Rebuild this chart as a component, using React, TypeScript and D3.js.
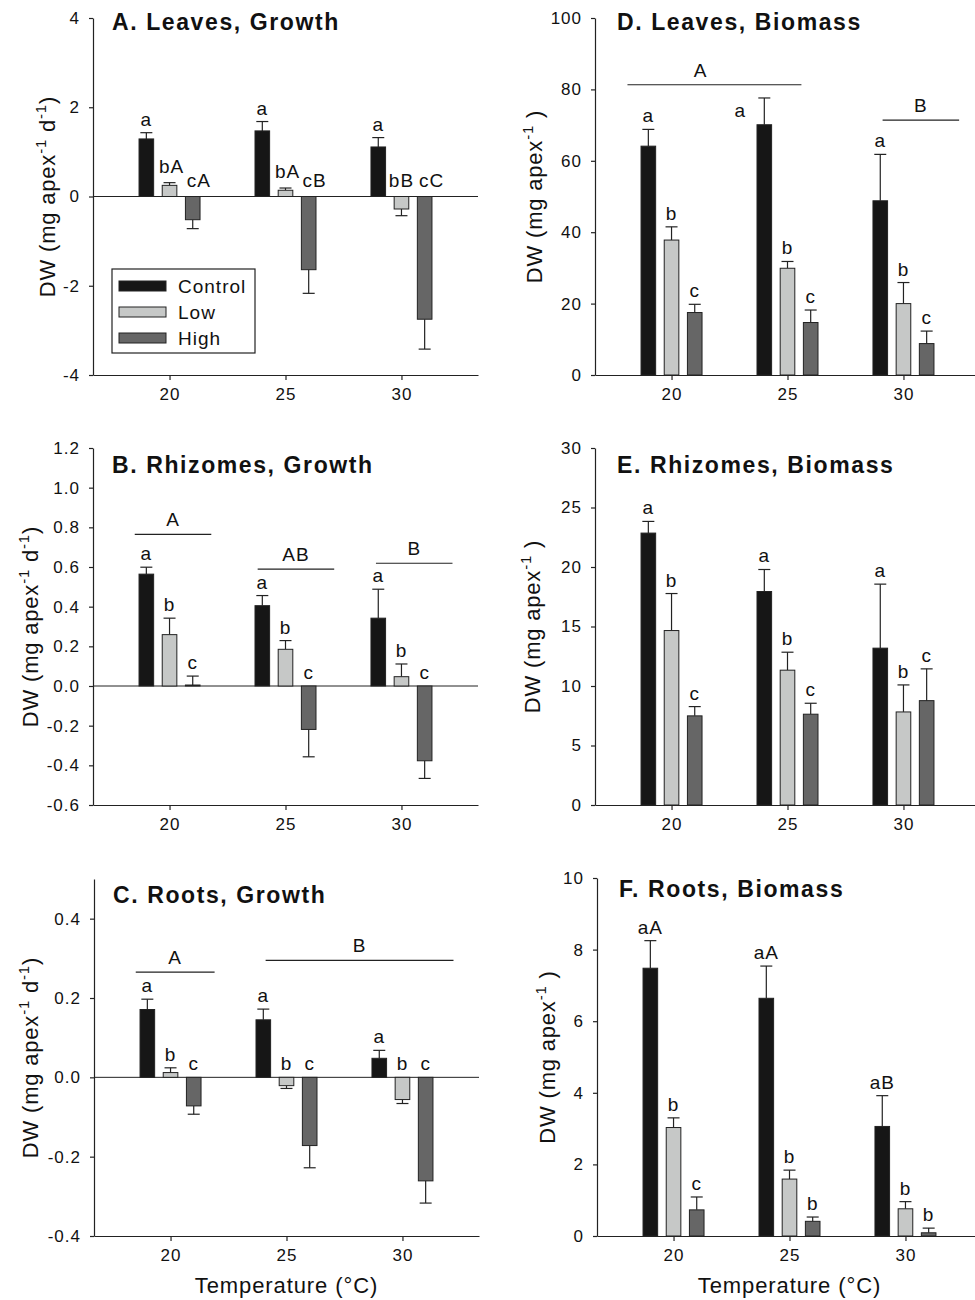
import React, { useRef, useEffect } from 'react'
import * as d3 from 'd3'

// x categories and treatments
const temps = [20, 25, 30]
const treatments = ['Control', 'Low', 'High']
const colors = ['#161616', '#c6c8c7', '#666666']

// rows = Control, Low, High ; columns = 20, 25, 30 °C
const leavesGrowthMean = [[1.29, 1.47, 1.11], [0.25, 0.14, -0.28], [-0.52, -1.64, -2.75]]
const leavesGrowthErr = [[0.14, 0.21, 0.21], [0.06, 0.05, 0.15], [0.2, 0.53, 0.67]]
const leavesGrowthLetters = [['a', 'a', 'a'], ['bA', 'bA', 'bB'], ['cA', 'cB', 'cC']]

const rhizomesGrowthMean = [[0.564, 0.405, 0.342], [0.259, 0.185, 0.047], [0.005, -0.219, -0.377]]
const rhizomesGrowthErr = [[0.035, 0.051, 0.146], [0.083, 0.044, 0.064], [0.045, 0.138, 0.089]]
const rhizomesGrowthGroups = [
    { label: 'A', from: 18.5, to: 21.8, y: 0.764 },
    { label: 'AB', from: 23.8, to: 27.1, y: 0.589 },
    { label: 'B', from: 28.9, to: 32.2, y: 0.619 }
]

const rootsGrowthMean = [[0.171, 0.145, 0.048], [0.012, -0.021, -0.056], [-0.072, -0.172, -0.261]]
const rootsGrowthErr = [[0.026, 0.027, 0.02], [0.012, 0.007, 0.01], [0.021, 0.056, 0.056]]
const rootsGrowthGroups = [
    { label: 'A', from: 18.5, to: 21.9, y: 0.265 },
    { label: 'B', from: 24.1, to: 32.2, y: 0.295 }
]

const leavesBiomassMean = [[64.1, 70.1, 48.8], [37.8, 29.9, 20.0], [17.5, 14.7, 8.8]]
const leavesBiomassErr = [[4.7, 7.5, 13.0], [3.7, 1.9, 5.9], [2.3, 3.5, 3.5]]
const leavesBiomassGroups = [
    { label: 'A', from: 18.1, to: 25.6, y: 81.3, at: 21.25 },
    { label: 'B', from: 29.1, to: 32.4, y: 71.4 }
]

const rhizomesBiomassMean = [[22.85, 17.94, 13.18], [14.66, 11.33, 7.82], [7.49, 7.63, 8.77]]
const rhizomesBiomassErr = [[0.98, 1.85, 5.38], [3.11, 1.51, 2.27], [0.78, 0.92, 2.67]]

const rootsBiomassMean = [[7.48, 6.64, 3.06], [3.03, 1.59, 0.76], [0.73, 0.41, 0.09]]
const rootsBiomassErr = [[0.77, 0.9, 0.86], [0.27, 0.25, 0.2], [0.36, 0.12, 0.13]]
const rootsBiomassLetters = [['aA', 'aA', 'aB'], ['b', 'b', 'b'], ['c', 'b', 'b']]

const abc = [['a', 'a', 'a'], ['b', 'b', 'b'], ['c', 'c', 'c']]

const FONT = 'Liberation Sans, Arial, Helvetica, sans-serif'
const PLOT_W = 385
const X_DOMAIN = [16.7, 33.3]

const panels = [
    {
        title: 'A. Leaves, Growth', growth: true, mean: leavesGrowthMean, err: leavesGrowthErr,
        letters: leavesGrowthLetters, groups: [], domain: [-4, 4], ticks: [-4, -2, 0, 2, 4], fmt: d => String(d),
        left: 93, top: 18, bottom: 375, titleDx: 19, titleDy: 12, labelX: 55, legend: true,
        nudge: {
            '1-0': [2, -3], '1-1': [2, -3], '1-2': [0, -3],
            '2-0': [6, -3], '2-1': [6, -3], '2-2': [7, -3]
        }
    },
    {
        title: 'B. Rhizomes, Growth', growth: true, mean: rhizomesGrowthMean, err: rhizomesGrowthErr,
        letters: abc, groups: rhizomesGrowthGroups, domain: [-0.6, 1.2],
        ticks: [-0.6, -0.4, -0.2, 0, 0.2, 0.4, 0.6, 0.8, 1.0, 1.2], fmt: d => d.toFixed(1),
        left: 93, top: 448, bottom: 805, titleDx: 19, titleDy: 25, labelX: 38
    },
    {
        title: 'C. Roots, Growth', growth: true, mean: rootsGrowthMean, err: rootsGrowthErr,
        letters: abc, groups: rootsGrowthGroups, domain: [-0.4, 0.5], ticks: [-0.4, -0.2, 0, 0.2, 0.4],
        fmt: d => d.toFixed(1), left: 94, top: 879, bottom: 1236, titleDx: 19, titleDy: 24, labelX: 38, xTitle: true
    },
    {
        title: 'D. Leaves, Biomass', growth: false, mean: leavesBiomassMean, err: leavesBiomassErr,
        letters: abc, groups: leavesBiomassGroups, domain: [0, 100], ticks: [0, 20, 40, 60, 80, 100],
        fmt: d => String(d), left: 595, top: 18, bottom: 375, titleDx: 22, titleDy: 12, labelX: 542,
        nudge: { '0-1': [-24, 26] }
    },
    {
        title: 'E. Rhizomes, Biomass', growth: false, mean: rhizomesBiomassMean, err: rhizomesBiomassErr,
        letters: abc, groups: [], domain: [0, 30], ticks: [0, 5, 10, 15, 20, 25, 30],
        fmt: d => String(d), left: 595, top: 448, bottom: 805, titleDx: 22, titleDy: 25, labelX: 540
    },
    {
        title: 'F. Roots, Biomass', growth: false, mean: rootsBiomassMean, err: rootsBiomassErr,
        letters: rootsBiomassLetters, groups: [], domain: [0, 10], ticks: [0, 2, 4, 6, 8, 10],
        fmt: d => String(d), left: 597, top: 878, bottom: 1236, titleDx: 22, titleDy: 19, labelX: 555, xTitle: true
    }
]

function drawPanel(svg, p) {
    const g = svg.append('g')

    const x = d3.scaleLinear().domain(X_DOMAIN).range([p.left, p.left + PLOT_W])
    const y = d3.scaleLinear().domain(p.domain).range([p.bottom, p.top])
    const bw = x(X_DOMAIN[0] + 0.63) - x(X_DOMAIN[0])
    const offsets = [-1, 0, 1]

    // zero line for growth panels
    if (p.domain[0] < 0) {
        g.append('line')
            .attr('x1', p.left).attr('x2', p.left + PLOT_W)
            .attr('y1', y(0)).attr('y2', y(0))
            .attr('stroke', '#222').attr('stroke-width', 1)
    }

    // bars, error bars and letters
    p.mean.forEach((row, i) => {
        row.forEach((v, j) => {
            const cx = x(temps[j] + offsets[i])
            const e = p.err[i][j]
            const tip = v >= 0 ? v + e : v - e

            g.append('line')
                .attr('x1', cx).attr('x2', cx)
                .attr('y1', y(v)).attr('y2', y(tip))
                .attr('stroke', '#222').attr('stroke-width', 1.2)
            g.append('line')
                .attr('x1', cx - 6).attr('x2', cx + 6)
                .attr('y1', y(tip)).attr('y2', y(tip))
                .attr('stroke', '#222').attr('stroke-width', 1.2)

            g.append('rect')
                .attr('x', cx - bw / 2)
                .attr('y', Math.min(y(v), y(0)))
                .attr('width', bw)
                .attr('height', Math.abs(y(v) - y(0)))
                .attr('fill', colors[i])
                .attr('stroke', '#222')
                .attr('stroke-width', 1)

            const nudge = (p.nudge && p.nudge[`${i}-${j}`]) || [0, 0]
            const top = v >= 0 ? v + e : 0
            g.append('text')
                .attr('x', cx + nudge[0])
                .attr('y', y(top) - 7 + nudge[1])
                .attr('text-anchor', 'middle')
                .style('font-family', FONT)
                .style('font-size', '19px')
                .style('letter-spacing', '1px')
                .style('fill', '#111')
                .text(p.letters[i][j])
        })
    })

    // group comparison lines
    p.groups.forEach(gr => {
        g.append('line')
            .attr('x1', x(gr.from)).attr('x2', x(gr.to))
            .attr('y1', y(gr.y)).attr('y2', y(gr.y))
            .attr('stroke', '#222').attr('stroke-width', 1.2)
        g.append('text')
            .attr('x', x(gr.at != null ? gr.at : (gr.from + gr.to) / 2))
            .attr('y', y(gr.y) - 8)
            .attr('text-anchor', 'middle')
            .style('font-family', FONT)
            .style('font-size', '19px')
            .style('letter-spacing', '1px')
            .style('fill', '#111')
            .text(gr.label)
    })

    // axes
    const yAxis = g.append('g')
        .attr('transform', `translate(${p.left},0)`)
        .call(d3.axisLeft(y).tickValues(p.ticks).tickFormat(p.fmt).tickSize(4).tickSizeOuter(0).tickPadding(9))
    const xAxis = g.append('g')
        .attr('transform', `translate(0,${p.bottom})`)
        .call(d3.axisBottom(x).tickValues(temps).tickFormat(d => String(d)).tickSize(5).tickSizeOuter(0).tickPadding(8))

    ;[yAxis, xAxis].forEach(ax => {
        ax.attr('font-family', FONT).attr('font-size', 17)
        ax.selectAll('path, line').attr('stroke', '#222').attr('stroke-width', 1.2)
        ax.selectAll('text').attr('fill', '#111').style('letter-spacing', '1px')
    })

    // title
    g.append('text')
        .attr('x', p.left + p.titleDx)
        .attr('y', p.top + p.titleDy)
        .style('font-family', FONT)
        .style('font-size', '23px')
        .style('font-weight', 'bold')
        .style('letter-spacing', '1.6px')
        .style('fill', '#111')
        .text(p.title)

    // y-axis label with superscripts
    const yl = g.append('text')
        .attr('transform', `translate(${p.labelX},${(p.top + p.bottom) / 2}) rotate(-90)`)
        .attr('text-anchor', 'middle')
        .style('font-family', FONT)
        .style('font-size', '22px')
        .style('letter-spacing', '0.8px')
        .style('fill', '#111')
    yl.append('tspan').text('DW (mg apex')
    yl.append('tspan').attr('dy', -9).style('font-size', '15px').text('-1')
    if (p.growth) {
        yl.append('tspan').attr('dy', 9).text(' d')
        yl.append('tspan').attr('dy', -9).style('font-size', '15px').text('-1')
        yl.append('tspan').attr('dy', 9).text(')')
    } else {
        yl.append('tspan').attr('dy', 9).text(' )')
    }

    if (p.xTitle) {
        g.append('text')
            .attr('x', x(25))
            .attr('y', 1293)
            .attr('text-anchor', 'middle')
            .style('font-family', FONT)
            .style('font-size', '22px')
            .style('letter-spacing', '0.9px')
            .style('fill', '#111')
            .text('Temperature (°C)')
    }

    if (p.legend) {
        const lg = g.append('g').attr('transform', 'translate(112,269)')
        lg.append('rect')
            .attr('width', 143).attr('height', 84)
            .attr('fill', 'white').attr('stroke', '#222').attr('stroke-width', 1.2)
        treatments.forEach((t, i) => {
            lg.append('rect')
                .attr('x', 7).attr('y', 12 + i * 26)
                .attr('width', 47).attr('height', 10)
                .attr('fill', colors[i]).attr('stroke', '#222').attr('stroke-width', 1)
            lg.append('text')
                .attr('x', 66).attr('y', 17 + i * 26 + 7)
                .style('font-family', FONT)
                .style('font-size', '19px')
                .style('letter-spacing', '1px')
                .style('fill', '#111')
                .text(t)
        })
    }
}

export default function App() {
    const ref = useRef(null)

    useEffect(() => {
        const svg = d3.select(ref.current)
        svg.selectAll('*').remove()
        panels.forEach(p => drawPanel(svg, p))
    }, [])

    return (
        <svg
            ref={ref}
            width={975}
            height={1300}
            style={{ position: 'absolute', left: 0, top: 0, background: 'white' }}
        />
    )
}
